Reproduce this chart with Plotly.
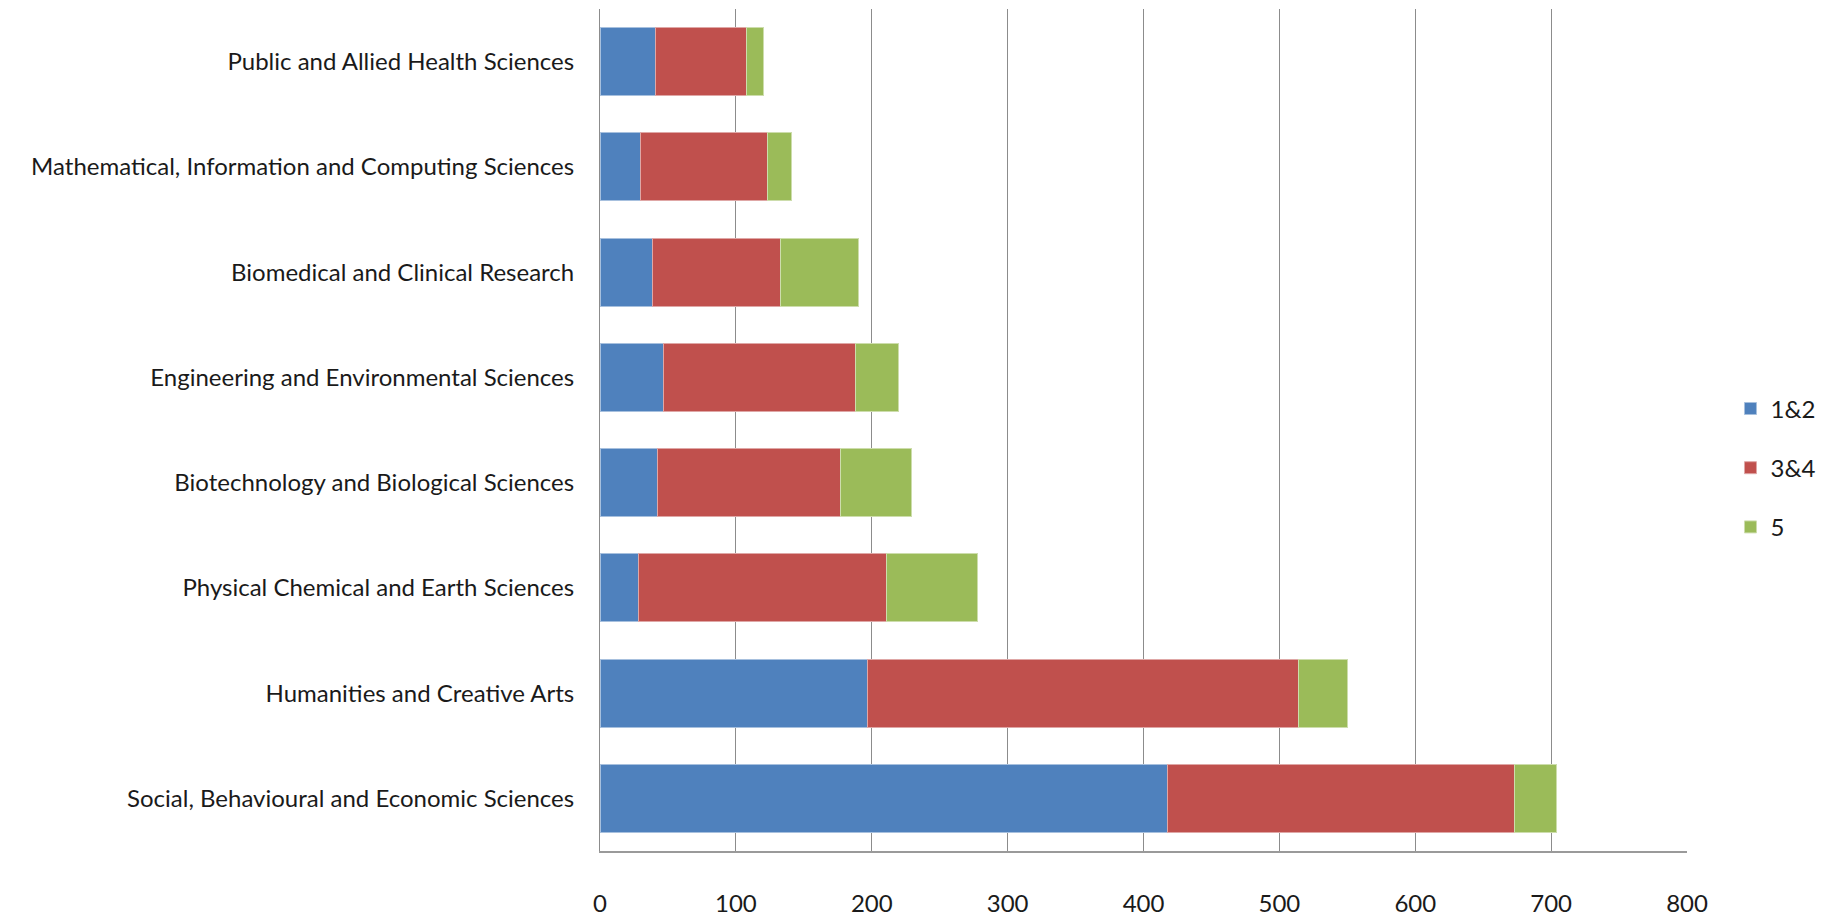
import plotly.graph_objects as go

categories = [
    "Social, Behavioural and Economic Sciences",
    "Humanities and Creative Arts",
    "Physical Chemical and Earth Sciences",
    "Biotechnology and Biological Sciences",
    "Engineering and Environmental Sciences",
    "Biomedical and Clinical Research",
    "Mathematical, Information and Computing Sciences",
    "Public and Allied Health Sciences",
]
series_names = ["1&2", "3&4", "5"]
vals_12 = [418, 197, 28, 42, 47, 39, 30, 41]
vals_34 = [255, 317, 183, 135, 141, 94, 93, 67]
vals_5 = [31, 36, 67, 52, 32, 57, 18, 12]
x_ticks = [0, 100, 200, 300, 400, 500, 600, 700, 800]

colors = ["#4F81BD", "#C0504D", "#9BBB59"]
line_colors = ["#A7C0DE", "#DFA7A6", "#CDDDAC"]

fig = go.Figure()
for name, vals, c, lc in zip(series_names, [vals_12, vals_34, vals_5], colors, line_colors):
    fig.add_trace(go.Bar(
        y=categories, x=vals, name=name, orientation="h",
        marker=dict(color=c, line=dict(color=lc, width=1)),
        legendgroup=name,
    ))

font_family = "Lato, Carlito, 'Open Sans', sans-serif"
fig.update_layout(
    width=1823, height=910,
    barmode="stack", bargap=0.355,
    paper_bgcolor="white", plot_bgcolor="white",
    margin=dict(l=592, r=144, t=1, b=62),
    font=dict(family=font_family, size=24, color="#1a1a1a"),
    showlegend=True,
    legend=dict(
        x=1.04, xanchor="left", y=0.455, yanchor="middle",
        traceorder="grouped", tracegroupgap=25,
        font=dict(size=24, family=font_family),
        itemwidth=30,
    ),
    xaxis=dict(
        range=[0, 800], tickvals=x_ticks, ticktext=[str(t) for t in x_ticks],
        showgrid=True, gridcolor="#8C8C8C", gridwidth=1,
        showline=True, linecolor="#9A9A9A", linewidth=2,
        zeroline=False,
        ticks="outside", ticklen=30, tickcolor="rgba(0,0,0,0)",
        tickfont=dict(size=24),
    ),
    yaxis=dict(
        type="category", categoryorder="array", categoryarray=categories,
        range=[-0.5, 7.5],
        showline=True, linecolor="#8C8C8C", linewidth=1,
        showgrid=False,
        ticks="outside", ticklen=20, tickcolor="rgba(0,0,0,0)",
        tickfont=dict(size=24),
    ),
)

fig.write_html("out.html")
